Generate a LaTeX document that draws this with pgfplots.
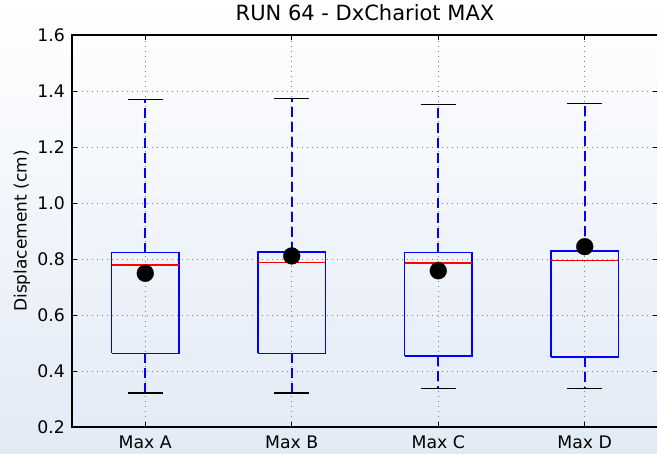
\documentclass[border=0pt]{standalone}
\usepackage{pgfplots}
\pgfplotsset{compat=1.18}
\usepackage{fontspec}
\setmainfont{DejaVu Sans}
\definecolor{bgb}{RGB}{226,234,246}
\definecolor{gridg}{RGB}{130,130,130}
\begin{document}
\begin{tikzpicture}
\useasboundingbox (-72pt,-27pt) rectangle (585pt,427pt);
\shade[top color=white, bottom color=bgb] (-72pt,-27pt) rectangle (585pt,427pt);
\begin{axis}[
  at={(0,0)}, anchor=south west,
  scale only axis, width=586pt, height=392pt,
  xmin=0.5, xmax=4.5, ymin=0.2, ymax=1.6,
  xtick={1,2,3,4}, xticklabels={Max A,Max B,Max C,Max D},
  ytick={0.2,0.4,0.6,0.8,1.0,1.2,1.4,1.6},
  yticklabel style={/pgf/number format/fixed,/pgf/number format/fixed zerofill,/pgf/number format/precision=1, anchor=east, inner sep=0pt, xshift=-7pt},
  /pgf/number format/assume math mode=true,
  xticklabel style={anchor=base, inner sep=0pt, yshift=-21.3pt},
  tick label style={font=\fontsize{17.3}{20}\selectfont},
  tick align=inside, major tick length=5pt,
  tick style={black, line width=0.9pt},
  axis line style={black, line width=1.8pt},
  grid=major,
  major grid style={gridg, line width=0.9pt, dash pattern=on 1pt off 4pt},
  axis background/.style={fill=none},
  title={RUN 64 - DxChariot MAX},
  title style={at={(axis description cs:0.5,1)}, anchor=base, inner sep=0pt, yshift=8.3pt, font=\fontsize{21}{24}\selectfont},
  ylabel={Displacement (cm)},
  ylabel style={at={([xshift=-45.3pt]axis description cs:0,0.5)}, anchor=base, inner sep=0pt, font=\fontsize{17}{20}\selectfont},
]
% means
\addplot[only marks, mark=*, mark size=8.4pt, black] coordinates {(1,0.749) (2,0.811) (3,0.758) (4,0.844)};
% boxes
\addplot[blue, line width=1.6pt] coordinates {(0.77,0.463) (1.23,0.463) (1.23,0.823) (0.77,0.823) (0.77,0.463)};
\addplot[blue, line width=1.6pt] coordinates {(1.77,0.463) (2.23,0.463) (2.23,0.825) (1.77,0.825) (1.77,0.463)};
\addplot[blue, line width=1.6pt] coordinates {(2.77,0.454) (3.23,0.454) (3.23,0.823) (2.77,0.823) (2.77,0.454)};
\addplot[blue, line width=1.6pt] coordinates {(3.77,0.451) (4.23,0.451) (4.23,0.829) (3.77,0.829) (3.77,0.451)};
% medians
\addplot[red, line width=1.6pt] coordinates {(0.77,0.779) (1.23,0.779)};
\addplot[red, line width=1.6pt] coordinates {(1.77,0.787) (2.23,0.787)};
\addplot[red, line width=1.6pt] coordinates {(2.77,0.785) (3.23,0.785)};
\addplot[red, line width=1.6pt] coordinates {(3.77,0.795) (4.23,0.795)};
% whiskers
\addplot[blue, line width=1.6pt, dash pattern=on 10pt off 5pt] coordinates {(1,0.823) (1,1.370)};
\addplot[blue, line width=1.6pt, dash pattern=on 10pt off 5pt] coordinates {(1,0.463) (1,0.322)};
\addplot[blue, line width=1.6pt, dash pattern=on 10pt off 5pt] coordinates {(2,0.825) (2,1.373)};
\addplot[blue, line width=1.6pt, dash pattern=on 10pt off 5pt] coordinates {(2,0.463) (2,0.322)};
\addplot[blue, line width=1.6pt, dash pattern=on 10pt off 5pt] coordinates {(3,0.823) (3,1.352)};
\addplot[blue, line width=1.6pt, dash pattern=on 10pt off 5pt] coordinates {(3,0.454) (3,0.338)};
\addplot[blue, line width=1.6pt, dash pattern=on 10pt off 5pt] coordinates {(4,0.829) (4,1.355)};
\addplot[blue, line width=1.6pt, dash pattern=on 10pt off 5pt] coordinates {(4,0.451) (4,0.338)};
% caps
\addplot[black, line width=1.6pt] coordinates {(0.88,1.370) (1.12,1.370)};
\addplot[black, line width=1.6pt] coordinates {(0.88,0.322) (1.12,0.322)};
\addplot[black, line width=1.6pt] coordinates {(1.88,1.373) (2.12,1.373)};
\addplot[black, line width=1.6pt] coordinates {(1.88,0.322) (2.12,0.322)};
\addplot[black, line width=1.6pt] coordinates {(2.88,1.352) (3.12,1.352)};
\addplot[black, line width=1.6pt] coordinates {(2.88,0.338) (3.12,0.338)};
\addplot[black, line width=1.6pt] coordinates {(3.88,1.355) (4.12,1.355)};
\addplot[black, line width=1.6pt] coordinates {(3.88,0.338) (4.12,0.338)};
\end{axis}
\end{tikzpicture}
\end{document}
